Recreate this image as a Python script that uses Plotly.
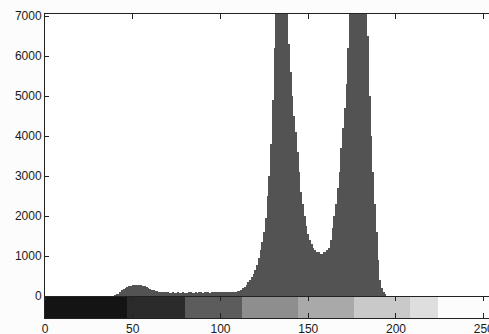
import plotly.graph_objects as go

# Histogram counts for gray levels 0..255
counts = [
    0, 0, 0, 0, 0, 0, 0, 0, 0, 0, 0, 0, 0, 0, 0, 0,
    0, 0, 0, 0, 0, 0, 0, 0, 0, 0, 0, 0, 0, 0, 0, 0,
    0, 0, 0, 0, 0, 0, 0, 0, 10, 30, 60, 110, 150, 180, 200, 220,
    240, 255, 265, 270, 275, 275, 270, 265, 255, 240, 220, 200, 180, 160, 140, 125,
    115, 110, 105, 100, 95, 90, 90, 85, 85, 90, 80, 85, 90, 80, 85, 90,
    85, 80, 90, 95, 85, 80, 90, 85, 95, 90, 85, 90, 95, 90, 85, 95,
    90, 95, 100, 90, 95, 100, 95, 105, 100, 95, 105, 110, 100, 110, 120, 130,
    150, 190, 230, 280, 340, 400, 480, 560, 650, 780, 950, 1150, 1350, 1600, 1950, 2500,
    3000, 3800, 4900, 6200, 7200, 7600, 7900, 8100, 8000, 7700, 7200, 6300, 5600, 5000, 4500, 4100,
    3600, 3100, 2600, 2300, 2000, 1750, 1550, 1400, 1300, 1200, 1150, 1100, 1100, 1050, 1050, 1100,
    1100, 1150, 1200, 1400, 1700, 2000, 2300, 2700, 3100, 3700, 4200, 4700, 5300, 6200, 7200, 7600,
    8000, 8200, 8300, 8200, 8000, 7800, 7500, 7200, 6500, 5000, 4000, 3100, 2300, 1600, 900, 400,
    200, 100, 30, 0, 0, 0, 0, 0, 0, 0, 0, 0, 0, 0, 0, 0,
    0, 0, 0, 0, 0, 0, 0, 0, 0, 0, 0, 0, 0, 0, 0, 0,
    0, 0, 0, 0, 0, 0, 0, 0, 0, 0, 0, 0, 0, 0, 0, 0,
    0, 0, 0, 0, 0, 0, 0, 0, 0, 0, 0, 0, 0, 0, 0, 0,
]
levels = list(range(256))

# Gray strip (scanned, posterized) block edges and gray values
strip_edges = [0, 47, 80, 112, 144, 176, 208, 224, 256]
strip_gray = [20, 43, 92, 142, 169, 201, 222, 252]
strip_y = [-550, 0]

y_ticks = [0, 1000, 2000, 3000, 4000, 5000, 6000, 7000]
x_ticks = [0, 50, 100, 150, 200, 250]

fig = go.Figure()

fig.add_trace(go.Heatmap(
    x=strip_edges, y=strip_y, z=[strip_gray],
    zmin=0, zmax=255,
    colorscale=[[0, "#000000"], [1, "#ffffff"]],
    showscale=False, hoverinfo="skip",
))

fig.add_trace(go.Bar(
    x=levels, y=counts,
    width=0.75,
    marker=dict(color="#535353", line=dict(width=0)),
))

font = dict(family="Liberation Sans, Arial, sans-serif", size=12, color="#1a1a1a")

fig.update_layout(
    width=489, height=334,
    margin=dict(l=45, r=0, t=14, b=16),
    paper_bgcolor="#fcfcfc",
    plot_bgcolor="#ffffff",
    showlegend=False,
    bargap=0,
    font=font,
    xaxis=dict(
        range=[0, 253], tickvals=x_ticks, ticks="inside", ticklen=5,
        tickcolor="#222", showline=True, linecolor="#222", linewidth=1,
        mirror="ticks", showgrid=False, zeroline=False, tickfont=font,
        automargin=False, ticklabeloverflow="allow",
    ),
    xaxis2=dict(
        range=[0, 253], overlaying="x", anchor="free", position=22 / 304,
        side="bottom", tickvals=x_ticks, ticks="outside", ticklen=4,
        tickcolor="#222", showline=True, linecolor="#222", linewidth=1,
        showticklabels=False, showgrid=False, zeroline=False,
        automargin=False,
    ),
    yaxis=dict(
        range=[-550, 7050], tickvals=y_ticks, ticks="inside", ticklen=4,
        tickcolor="#222", showline=True, linecolor="#222", linewidth=1,
        showgrid=False, zeroline=False, tickfont=font, automargin=False,
    ),
)

# invisible trace to activate xaxis2
fig.add_trace(go.Scatter(x=[0], y=[0], xaxis="x2", mode="markers",
                         marker=dict(opacity=0), hoverinfo="skip"))

fig.write_html(
    "out.html",
    config={"displayModeBar": False},
    post_script="document.body.style.margin='0';document.body.style.background='#fcfcfc';",
)
